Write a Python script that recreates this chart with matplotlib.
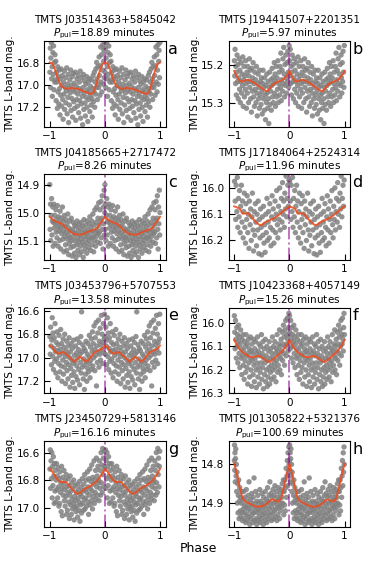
import numpy as np
import matplotlib
matplotlib.use("Agg")
import matplotlib.pyplot as plt

# star names, periods and panel letters
names = ["TMTS J03514363+5845042", "TMTS J19441507+2201351",
         "TMTS J04185665+2717472", "TMTS J17184064+2524314",
         "TMTS J03453796+5707553", "TMTS J10423368+4057149",
         "TMTS J23450729+5813146", "TMTS J01305822+5321376"]
periods = ["18.89", "5.97", "8.26", "11.96", "13.58", "15.26", "16.16", "100.69"]
letters = ["a", "b", "c", "d", "e", "f", "g", "h"]

# binned light curve, phase 0..1 in steps of 0.05
curve_phase = [0.00, 0.05, 0.10, 0.15, 0.20, 0.25, 0.30, 0.35, 0.40, 0.45, 0.50,
               0.55, 0.60, 0.65, 0.70, 0.75, 0.80, 0.85, 0.90, 0.95, 1.00]
curve_a = [16.79, 16.80, 16.86, 16.94, 17.00, 17.02, 17.03, 17.03, 17.02, 17.03, 17.03,
           17.04, 17.05, 17.06, 17.07, 17.08, 17.06, 16.98, 16.88, 16.81, 16.79]
curve_b = [15.217, 15.232, 15.243, 15.245, 15.241, 15.240, 15.243, 15.247, 15.252, 15.257, 15.262,
           15.268, 15.270, 15.262, 15.253, 15.248, 15.245, 15.242, 15.238, 15.230, 15.217]
curve_c = [15.015, 15.024, 15.031, 15.035, 15.038, 15.045, 15.055, 15.064, 15.072, 15.077, 15.078,
           15.079, 15.077, 15.073, 15.068, 15.064, 15.061, 15.057, 15.043, 15.030, 15.015]
curve_d = [16.070, 16.074, 16.079, 16.098, 16.097, 16.096, 16.108, 16.120, 16.131, 16.140, 16.141,
           16.132, 16.127, 16.122, 16.118, 16.112, 16.104, 16.095, 16.087, 16.078, 16.070]
curve_e = [16.896, 16.910, 16.950, 16.965, 16.960, 16.950, 16.970, 16.990, 17.015, 17.033, 17.010,
           16.990, 17.010, 17.033, 17.020, 16.990, 16.960, 16.945, 16.935, 16.925, 16.896]
curve_f = [16.073, 16.095, 16.112, 16.125, 16.133, 16.140, 16.145, 16.146, 16.142, 16.141, 16.146,
           16.155, 16.163, 16.166, 16.156, 16.146, 16.135, 16.125, 16.112, 16.095, 16.073]
curve_g = [16.718, 16.740, 16.775, 16.800, 16.815, 16.812, 16.815, 16.840, 16.860, 16.885, 16.900,
           16.895, 16.875, 16.860, 16.850, 16.840, 16.825, 16.810, 16.785, 16.755, 16.718]
curve_h = [14.798, 14.825, 14.860, 14.887, 14.896, 14.899, 14.903, 14.906, 14.909, 14.909, 14.908,
           14.905, 14.900, 14.893, 14.890, 14.894, 14.896, 14.888, 14.860, 14.827, 14.798]

# photometry points (phase in 0..1, mag)
pts_a = [(0.004, 16.88), (0.011, 16.66), (0.017, 17.02), (0.022, 16.75), (0.031, 16.61), (0.036, 16.94),
         (0.044, 16.83), (0.049, 17.10), (0.058, 16.70), (0.063, 16.90), (0.071, 16.64), (0.078, 17.04),
         (0.085, 16.79), (0.092, 16.97), (0.097, 16.72), (0.104, 16.95), (0.112, 16.78), (0.118, 17.14),
         (0.126, 16.88), (0.131, 16.97), (0.139, 17.21), (0.146, 16.83), (0.152, 17.06), (0.158, 16.92),
         (0.166, 17.17), (0.173, 16.86), (0.179, 17.03), (0.187, 17.27), (0.194, 16.94), (0.201, 17.09),
         (0.208, 16.85), (0.216, 17.19), (0.223, 17.00), (0.229, 16.91), (0.237, 17.13), (0.244, 17.31),
         (0.251, 16.97), (0.259, 17.08), (0.266, 16.87), (0.272, 17.22), (0.281, 17.02), (0.288, 16.93),
         (0.294, 17.16), (0.302, 17.05), (0.309, 16.84), (0.317, 17.26), (0.323, 16.99), (0.331, 17.11),
         (0.338, 16.90), (0.344, 17.34), (0.352, 17.03), (0.359, 17.18), (0.366, 16.95), (0.373, 17.07),
         (0.381, 16.86), (0.388, 17.23), (0.394, 17.00), (0.402, 17.12), (0.409, 16.92), (0.417, 17.29),
         (0.423, 17.04), (0.431, 16.89), (0.438, 17.15), (0.446, 16.98), (0.452, 17.21), (0.461, 17.06),
         (0.467, 16.88), (0.474, 17.32), (0.482, 17.01), (0.489, 17.13), (0.496, 16.94), (0.503, 17.19),
         (0.511, 17.08), (0.518, 16.91), (0.526, 17.25), (0.533, 17.03), (0.539, 16.97), (0.547, 17.14),
         (0.554, 16.87), (0.562, 17.30), (0.568, 17.05), (0.576, 17.17), (0.583, 16.93), (0.591, 17.10),
         (0.597, 17.36), (0.604, 17.02), (0.612, 16.90), (0.619, 17.22), (0.627, 17.07), (0.633, 16.96),
         (0.641, 17.16), (0.648, 17.28), (0.656, 16.99), (0.662, 17.11), (0.671, 16.92), (0.677, 17.20),
         (0.684, 17.04), (0.692, 17.33), (0.699, 16.97), (0.707, 17.13), (0.713, 17.06), (0.722, 16.94),
         (0.728, 17.24), (0.736, 17.09), (0.743, 17.01), (0.751, 17.18), (0.758, 16.95), (0.766, 17.12),
         (0.772, 17.29), (0.781, 17.03), (0.787, 16.91), (0.794, 17.15), (0.802, 17.06), (0.809, 16.88),
         (0.817, 17.20), (0.823, 16.97), (0.831, 17.08), (0.838, 16.85), (0.846, 17.02), (0.852, 16.79),
         (0.861, 16.94), (0.867, 17.13), (0.874, 16.83), (0.882, 16.99), (0.889, 17.02), (0.896, 16.74),
         (0.903, 16.91), (0.911, 17.09), (0.918, 16.82), (0.926, 16.65), (0.932, 16.97), (0.941, 16.72),
         (0.947, 17.06), (0.954, 16.86), (0.962, 16.63), (0.969, 16.99), (0.976, 16.78), (0.983, 16.68),
         (0.991, 16.93), (0.997, 16.61)]
pts_b = [(0.003, 15.19), (0.010, 15.23), (0.016, 15.16), (0.025, 15.25), (0.031, 15.205), (0.039, 15.28),
         (0.046, 15.22), (0.052, 15.175), (0.061, 15.245), (0.068, 15.20), (0.074, 15.29), (0.083, 15.235),
         (0.089, 15.185), (0.097, 15.265), (0.104, 15.215), (0.112, 15.30), (0.119, 15.245), (0.127, 15.195),
         (0.134, 15.275), (0.141, 15.225), (0.149, 15.255), (0.156, 15.18), (0.164, 15.31), (0.171, 15.24),
         (0.178, 15.205), (0.186, 15.285), (0.193, 15.23), (0.201, 15.265), (0.208, 15.19), (0.216, 15.25),
         (0.223, 15.315), (0.231, 15.22), (0.238, 15.275), (0.246, 15.205), (0.253, 15.245), (0.261, 15.30),
         (0.268, 15.23), (0.276, 15.185), (0.283, 15.26), (0.291, 15.215), (0.298, 15.29), (0.306, 15.245),
         (0.313, 15.325), (0.321, 15.21), (0.328, 15.27), (0.336, 15.235), (0.343, 15.195), (0.351, 15.285),
         (0.358, 15.25), (0.366, 15.31), (0.373, 15.22), (0.381, 15.265), (0.388, 15.24), (0.396, 15.30),
         (0.403, 15.205), (0.411, 15.275), (0.418, 15.335), (0.426, 15.25), (0.433, 15.225), (0.441, 15.29),
         (0.448, 15.26), (0.456, 15.315), (0.463, 15.215), (0.471, 15.28), (0.478, 15.245), (0.486, 15.305),
         (0.493, 15.235), (0.501, 15.27), (0.508, 15.33), (0.516, 15.25), (0.523, 15.215), (0.531, 15.29),
         (0.538, 15.26), (0.546, 15.32), (0.553, 15.235), (0.561, 15.28), (0.568, 15.345), (0.576, 15.255),
         (0.583, 15.30), (0.591, 15.225), (0.598, 15.275), (0.606, 15.315), (0.613, 15.245), (0.621, 15.29),
         (0.628, 15.355), (0.636, 15.26), (0.643, 15.22), (0.651, 15.305), (0.658, 15.27), (0.666, 15.24),
         (0.673, 15.32), (0.681, 15.255), (0.688, 15.21), (0.696, 15.285), (0.703, 15.235), (0.711, 15.30),
         (0.718, 15.25), (0.726, 15.195), (0.733, 15.275), (0.741, 15.225), (0.748, 15.31), (0.756, 15.245),
         (0.763, 15.205), (0.771, 15.285), (0.778, 15.235), (0.786, 15.265), (0.793, 15.19), (0.801, 15.30),
         (0.808, 15.25), (0.816, 15.22), (0.823, 15.28), (0.831, 15.205), (0.838, 15.26), (0.846, 15.17),
         (0.853, 15.295), (0.861, 15.24), (0.868, 15.215), (0.876, 15.27), (0.883, 15.185), (0.891, 15.25),
         (0.898, 15.155), (0.906, 15.225), (0.913, 15.285), (0.921, 15.20), (0.928, 15.255), (0.936, 15.175),
         (0.943, 15.235), (0.951, 15.275), (0.958, 15.195), (0.966, 15.245), (0.973, 15.165), (0.981, 15.22),
         (0.988, 15.26), (0.996, 15.15)]
pts_c = [(0.002, 14.90), (0.008, 15.06), (0.015, 14.97), (0.021, 15.10), (0.029, 15.01), (0.035, 14.95),
         (0.042, 15.08), (0.049, 15.03), (0.056, 14.98), (0.063, 15.12), (0.069, 15.035), (0.077, 14.97),
         (0.084, 15.055), (0.091, 15.01), (0.098, 15.11), (0.105, 15.04), (0.112, 14.99), (0.119, 15.07),
         (0.126, 15.025), (0.133, 15.09), (0.140, 14.975), (0.147, 15.05), (0.154, 15.12), (0.161, 15.015),
         (0.168, 15.065), (0.175, 15.035), (0.182, 15.10), (0.189, 14.995), (0.196, 15.055), (0.203, 15.13),
         (0.210, 15.02), (0.217, 15.075), (0.224, 15.045), (0.231, 14.98), (0.238, 15.095), (0.245, 15.03),
         (0.252, 15.065), (0.259, 15.14), (0.266, 15.01), (0.273, 15.085), (0.280, 15.05), (0.287, 15.115),
         (0.294, 15.025), (0.301, 15.07), (0.308, 15.135), (0.315, 15.04), (0.322, 15.095), (0.329, 15.005),
         (0.336, 15.08), (0.343, 15.15), (0.350, 15.055), (0.357, 15.11), (0.364, 15.03), (0.371, 15.09),
         (0.378, 15.065), (0.385, 15.125), (0.392, 15.02), (0.399, 15.10), (0.406, 15.155), (0.413, 15.06),
         (0.420, 15.085), (0.427, 15.035), (0.434, 15.12), (0.441, 15.07), (0.448, 15.145), (0.455, 15.045),
         (0.462, 15.10), (0.469, 15.075), (0.476, 15.16), (0.483, 15.05), (0.490, 15.115), (0.497, 15.03),
         (0.504, 15.09), (0.511, 15.135), (0.518, 15.065), (0.525, 15.105), (0.532, 15.04), (0.539, 15.15),
         (0.546, 15.08), (0.553, 15.055), (0.560, 15.12), (0.567, 15.095), (0.574, 15.035), (0.581, 15.14),
         (0.588, 15.07), (0.595, 15.105), (0.602, 15.05), (0.609, 15.16), (0.616, 15.085), (0.623, 15.025),
         (0.630, 15.115), (0.637, 15.065), (0.644, 15.13), (0.651, 15.045), (0.658, 15.095), (0.665, 15.075),
         (0.672, 15.145), (0.679, 15.03), (0.686, 15.11), (0.693, 15.06), (0.700, 15.085), (0.707, 15.125),
         (0.714, 15.04), (0.721, 15.10), (0.728, 15.015), (0.735, 15.07), (0.742, 15.135), (0.749, 15.05),
         (0.756, 15.09), (0.763, 15.03), (0.770, 15.115), (0.777, 15.065), (0.784, 15.005), (0.791, 15.085),
         (0.798, 15.14), (0.805, 15.045), (0.812, 15.10), (0.819, 14.99), (0.826, 15.07), (0.833, 15.12),
         (0.840, 15.035), (0.847, 15.085), (0.854, 14.98), (0.861, 15.06), (0.868, 15.105), (0.875, 15.02),
         (0.882, 15.075), (0.889, 14.965), (0.896, 15.045), (0.903, 15.07), (0.910, 14.99), (0.917, 15.11),
         (0.924, 15.03), (0.931, 14.96), (0.938, 15.09), (0.945, 15.02), (0.952, 14.94), (0.959, 15.06),
         (0.966, 15.13), (0.973, 14.98), (0.980, 15.04), (0.987, 14.92), (0.994, 15.08), (0.998, 15.00)]
pts_d = [(0.006, 15.975), (0.018, 16.05), (0.027, 16.12), (0.035, 15.99), (0.048, 16.09), (0.057, 15.96),
         (0.066, 16.15), (0.078, 16.04), (0.089, 16.11), (0.097, 16.01), (0.109, 16.17), (0.118, 16.07),
         (0.131, 15.99), (0.142, 16.13), (0.151, 16.05), (0.163, 16.19), (0.172, 16.09), (0.184, 16.02),
         (0.193, 16.15), (0.205, 16.21), (0.214, 16.06), (0.226, 16.12), (0.235, 16.03), (0.247, 16.17),
         (0.256, 16.10), (0.268, 16.23), (0.277, 16.05), (0.289, 16.14), (0.298, 16.08), (0.309, 16.20),
         (0.321, 16.11), (0.330, 16.02), (0.342, 16.16), (0.351, 16.24), (0.363, 16.09), (0.372, 16.18),
         (0.384, 16.06), (0.393, 16.13), (0.405, 16.22), (0.414, 16.10), (0.426, 16.16), (0.435, 16.05),
         (0.447, 16.25), (0.456, 16.12), (0.468, 16.19), (0.477, 16.08), (0.489, 16.15), (0.498, 16.255),
         (0.510, 16.11), (0.519, 16.18), (0.531, 16.07), (0.540, 16.21), (0.552, 16.14), (0.561, 16.245),
         (0.573, 16.10), (0.582, 16.17), (0.594, 16.04), (0.603, 16.20), (0.615, 16.13), (0.624, 16.09),
         (0.636, 16.19), (0.645, 16.06), (0.657, 16.15), (0.666, 16.22), (0.678, 16.11), (0.687, 16.03),
         (0.699, 16.16), (0.708, 16.08), (0.720, 16.21), (0.729, 16.12), (0.741, 16.05), (0.750, 16.17),
         (0.762, 16.10), (0.771, 16.01), (0.783, 16.14), (0.792, 16.19), (0.804, 16.07), (0.813, 16.12),
         (0.825, 16.00), (0.834, 16.16), (0.846, 16.09), (0.855, 16.04), (0.867, 16.13), (0.876, 15.98),
         (0.888, 16.10), (0.897, 16.05), (0.909, 16.15), (0.918, 16.02), (0.930, 16.08), (0.939, 15.955),
         (0.951, 16.11), (0.960, 16.04), (0.972, 15.99), (0.981, 16.07), (0.993, 15.97)]
pts_e = [(0.004, 16.82), (0.011, 16.97), (0.018, 16.74), (0.026, 16.90), (0.033, 17.06), (0.040, 16.85),
         (0.047, 16.66), (0.055, 16.99), (0.062, 16.79), (0.069, 17.10), (0.077, 16.92), (0.084, 16.83),
         (0.091, 17.03), (0.098, 16.71), (0.106, 16.95), (0.113, 17.13), (0.120, 16.87), (0.128, 17.01),
         (0.135, 16.78), (0.142, 16.94), (0.149, 17.17), (0.157, 16.89), (0.164, 17.05), (0.171, 16.81),
         (0.179, 16.98), (0.186, 17.12), (0.193, 16.93), (0.200, 16.76), (0.208, 17.07), (0.215, 16.88),
         (0.222, 17.20), (0.230, 16.96), (0.237, 17.02), (0.244, 16.84), (0.251, 17.14), (0.259, 16.91),
         (0.266, 17.08), (0.273, 16.80), (0.281, 16.99), (0.288, 17.22), (0.295, 16.94), (0.302, 17.04),
         (0.310, 16.86), (0.317, 17.11), (0.324, 16.97), (0.332, 17.18), (0.339, 16.90), (0.346, 17.06),
         (0.353, 16.83), (0.361, 17.00), (0.368, 17.25), (0.375, 16.95), (0.383, 17.09), (0.390, 16.88),
         (0.397, 17.15), (0.404, 17.02), (0.412, 16.92), (0.419, 17.21), (0.426, 17.05), (0.434, 16.85),
         (0.441, 17.12), (0.448, 16.98), (0.455, 17.26), (0.463, 17.03), (0.470, 16.90), (0.477, 17.16),
         (0.485, 16.96), (0.492, 17.07), (0.499, 16.84), (0.506, 17.19), (0.514, 17.00), (0.521, 16.93),
         (0.528, 17.10), (0.536, 16.87), (0.543, 17.23), (0.550, 16.97), (0.557, 17.04), (0.565, 16.82),
         (0.572, 17.13), (0.579, 16.61), (0.587, 16.95), (0.594, 17.08), (0.601, 16.89), (0.608, 17.18),
         (0.616, 17.01), (0.623, 16.92), (0.630, 17.27), (0.638, 17.06), (0.645, 16.94), (0.652, 17.14),
         (0.659, 16.86), (0.667, 17.03), (0.674, 17.20), (0.681, 16.97), (0.689, 17.09), (0.696, 16.88),
         (0.703, 17.12), (0.710, 16.99), (0.718, 16.81), (0.725, 17.05), (0.732, 17.17), (0.740, 16.91),
         (0.747, 17.02), (0.754, 16.84), (0.761, 17.10), (0.769, 16.95), (0.776, 16.78), (0.783, 17.07),
         (0.791, 16.88), (0.798, 17.00), (0.805, 16.73), (0.813, 16.93), (0.820, 17.11), (0.827, 16.83),
         (0.834, 16.98), (0.842, 16.70), (0.849, 17.24), (0.856, 16.90), (0.864, 17.04), (0.871, 16.79),
         (0.878, 16.95), (0.886, 16.68), (0.893, 17.08), (0.900, 16.86), (0.907, 16.97), (0.915, 16.75),
         (0.922, 17.02), (0.929, 16.89), (0.937, 16.64), (0.944, 16.93), (0.951, 16.80), (0.958, 17.05),
         (0.966, 16.87), (0.973, 16.71), (0.980, 16.96), (0.988, 16.84), (0.995, 16.63)]
pts_f = [(0.003, 15.97), (0.010, 16.04), (0.017, 16.11), (0.024, 15.99), (0.031, 16.07), (0.038, 16.15),
         (0.046, 16.02), (0.053, 16.10), (0.060, 16.05), (0.067, 16.17), (0.074, 16.08), (0.081, 16.01),
         (0.088, 16.13), (0.095, 16.06), (0.102, 16.19), (0.110, 16.09), (0.117, 16.03), (0.124, 16.15),
         (0.131, 16.11), (0.138, 16.22), (0.145, 16.07), (0.152, 16.14), (0.159, 16.05), (0.166, 16.18),
         (0.174, 16.12), (0.181, 16.24), (0.188, 16.08), (0.195, 16.16), (0.202, 16.10), (0.209, 16.21),
         (0.216, 16.05), (0.223, 16.14), (0.230, 16.19), (0.238, 16.09), (0.245, 16.26), (0.252, 16.13),
         (0.259, 16.07), (0.266, 16.17), (0.273, 16.11), (0.280, 16.23), (0.287, 16.15), (0.294, 16.06),
         (0.302, 16.20), (0.309, 16.12), (0.316, 16.27), (0.323, 16.09), (0.330, 16.16), (0.337, 16.13),
         (0.344, 16.22), (0.351, 16.07), (0.358, 16.18), (0.366, 16.25), (0.373, 16.11), (0.380, 16.15),
         (0.387, 16.08), (0.394, 16.20), (0.401, 16.275), (0.408, 16.13), (0.415, 16.17), (0.422, 16.06),
         (0.430, 16.23), (0.437, 16.12), (0.444, 16.19), (0.451, 16.09), (0.458, 16.26), (0.465, 16.14),
         (0.472, 16.21), (0.479, 16.10), (0.486, 16.17), (0.494, 16.05), (0.501, 16.24), (0.508, 16.13),
         (0.515, 16.19), (0.522, 16.08), (0.529, 16.28), (0.536, 16.15), (0.543, 16.11), (0.550, 16.22),
         (0.558, 16.17), (0.565, 16.07), (0.572, 16.25), (0.579, 16.14), (0.586, 16.20), (0.593, 16.10),
         (0.600, 16.27), (0.607, 16.16), (0.614, 16.23), (0.622, 16.12), (0.629, 16.19), (0.636, 16.08),
         (0.643, 16.26), (0.650, 16.15), (0.657, 16.21), (0.664, 16.11), (0.671, 16.18), (0.678, 16.24),
         (0.686, 16.13), (0.693, 16.06), (0.700, 16.20), (0.707, 16.15), (0.714, 16.10), (0.721, 16.23),
         (0.728, 16.17), (0.735, 16.08), (0.742, 16.19), (0.750, 16.13), (0.757, 16.25), (0.764, 16.11),
         (0.771, 16.16), (0.778, 16.05), (0.785, 16.21), (0.792, 16.12), (0.799, 16.18), (0.806, 16.09),
         (0.814, 16.14), (0.821, 16.03), (0.828, 16.20), (0.835, 16.10), (0.842, 16.15), (0.849, 16.07),
         (0.856, 16.22), (0.863, 16.12), (0.870, 16.04), (0.878, 16.16), (0.885, 16.09), (0.892, 16.01),
         (0.899, 16.13), (0.906, 16.06), (0.913, 16.18), (0.920, 16.03), (0.927, 16.10), (0.934, 15.99),
         (0.942, 16.14), (0.949, 16.05), (0.956, 16.09), (0.963, 15.98), (0.970, 16.07), (0.977, 16.12),
         (0.984, 16.02), (0.991, 15.96), (0.998, 16.05)]
pts_g = [(0.004, 16.72), (0.011, 16.58), (0.018, 16.86), (0.025, 16.66), (0.032, 16.79), (0.039, 16.60),
         (0.046, 16.93), (0.053, 16.70), (0.060, 16.84), (0.067, 16.63), (0.075, 16.77), (0.082, 16.97),
         (0.089, 16.68), (0.096, 16.88), (0.103, 16.73), (0.110, 16.96), (0.117, 16.80), (0.124, 16.68),
         (0.131, 16.87), (0.138, 16.77), (0.145, 16.93), (0.152, 16.71), (0.160, 16.85), (0.167, 16.99),
         (0.174, 16.79), (0.181, 16.97), (0.188, 16.74), (0.195, 16.89), (0.202, 16.82), (0.209, 17.03),
         (0.216, 16.70), (0.223, 16.86), (0.230, 17.06), (0.237, 16.78), (0.245, 16.91), (0.252, 16.83),
         (0.259, 16.73), (0.266, 16.95), (0.273, 16.87), (0.280, 16.99), (0.287, 16.80), (0.294, 16.92),
         (0.301, 16.76), (0.308, 17.05), (0.315, 16.85), (0.322, 17.02), (0.330, 16.89), (0.337, 16.79),
         (0.344, 16.96), (0.351, 16.84), (0.358, 17.08), (0.365, 16.91), (0.372, 16.77), (0.379, 16.98),
         (0.386, 16.88), (0.393, 17.05), (0.400, 16.82), (0.407, 16.94), (0.415, 17.01), (0.422, 16.86),
         (0.429, 16.97), (0.436, 16.80), (0.443, 17.09), (0.450, 16.92), (0.457, 17.00), (0.464, 16.84),
         (0.471, 16.95), (0.478, 17.03), (0.485, 16.89), (0.492, 16.99), (0.500, 16.83), (0.507, 17.07),
         (0.514, 16.93), (0.521, 16.87), (0.528, 17.02), (0.535, 16.96), (0.542, 16.81), (0.549, 17.10),
         (0.556, 16.90), (0.563, 16.98), (0.570, 16.85), (0.577, 17.04), (0.585, 16.92), (0.592, 16.79),
         (0.599, 16.97), (0.606, 16.88), (0.613, 17.02), (0.620, 16.83), (0.627, 16.94), (0.634, 16.76),
         (0.641, 17.01), (0.648, 16.87), (0.655, 16.93), (0.662, 16.80), (0.670, 16.99), (0.677, 16.89),
         (0.684, 16.74), (0.691, 16.96), (0.698, 16.85), (0.705, 17.05), (0.712, 16.79), (0.719, 16.91),
         (0.726, 16.72), (0.733, 16.98), (0.740, 16.86), (0.747, 16.81), (0.755, 16.95), (0.762, 16.69),
         (0.769, 16.88), (0.776, 17.01), (0.783, 16.78), (0.790, 16.92), (0.797, 16.83), (0.804, 16.66),
         (0.811, 16.97), (0.818, 16.80), (0.825, 16.89), (0.832, 16.73), (0.840, 16.94), (0.847, 16.64),
         (0.854, 16.85), (0.861, 16.77), (0.868, 16.91), (0.875, 16.70), (0.882, 16.82), (0.889, 16.80),
         (0.896, 16.95), (0.903, 16.66), (0.910, 16.86), (0.917, 16.73), (0.925, 16.91), (0.932, 16.60),
         (0.939, 16.82), (0.946, 16.69), (0.953, 16.89), (0.960, 16.57), (0.967, 16.76), (0.974, 16.64),
         (0.981, 16.85), (0.988, 16.70), (0.995, 16.59)]
pts_h = [(0.002, 14.79), (0.006, 14.75), (0.010, 14.815), (0.014, 14.77), (0.019, 14.845), (0.024, 14.785),
         (0.029, 14.76), (0.034, 14.83), (0.039, 14.80), (0.045, 14.87), (0.051, 14.82), (0.057, 14.90),
         (0.063, 14.85), (0.069, 14.925), (0.075, 14.88), (0.082, 14.84), (0.088, 14.94), (0.094, 14.895),
         (0.101, 14.86), (0.108, 14.92), (0.115, 14.885), (0.122, 14.935), (0.129, 14.90), (0.136, 14.87),
         (0.143, 14.925), (0.150, 14.945), (0.157, 14.89), (0.164, 14.915), (0.171, 14.87), (0.178, 14.94),
         (0.185, 14.905), (0.192, 14.925), (0.199, 14.885), (0.206, 14.95), (0.213, 14.91), (0.220, 14.865),
         (0.227, 14.93), (0.234, 14.895), (0.241, 14.945), (0.248, 14.915), (0.255, 14.88), (0.262, 14.935),
         (0.269, 14.845), (0.276, 14.905), (0.283, 14.955), (0.290, 14.92), (0.297, 14.89), (0.304, 14.94),
         (0.311, 14.90), (0.318, 14.875), (0.325, 14.93), (0.332, 14.91), (0.339, 14.95), (0.346, 14.885),
         (0.353, 14.925), (0.360, 14.835), (0.367, 14.945), (0.374, 14.90), (0.381, 14.92), (0.388, 14.87),
         (0.395, 14.94), (0.402, 14.91), (0.409, 14.955), (0.416, 14.895), (0.423, 14.925), (0.430, 14.88),
         (0.437, 14.945), (0.444, 14.915), (0.451, 14.90), (0.458, 14.935), (0.465, 14.865), (0.472, 14.95),
         (0.479, 14.92), (0.486, 14.895), (0.493, 14.94), (0.500, 14.905), (0.507, 14.875), (0.514, 14.93),
         (0.521, 14.91), (0.528, 14.955), (0.535, 14.885), (0.542, 14.925), (0.549, 14.90), (0.556, 14.945),
         (0.563, 14.87), (0.570, 14.915), (0.577, 14.935), (0.584, 14.89), (0.591, 14.95), (0.598, 14.905),
         (0.605, 14.86), (0.612, 14.925), (0.619, 14.895), (0.626, 14.94), (0.633, 14.88), (0.640, 14.915),
         (0.647, 14.845), (0.654, 14.93), (0.661, 14.90), (0.668, 14.875), (0.675, 14.945), (0.682, 14.91),
         (0.689, 14.885), (0.696, 14.925), (0.703, 14.865), (0.710, 14.94), (0.717, 14.90), (0.724, 14.88),
         (0.731, 14.92), (0.738, 14.855), (0.745, 14.935), (0.752, 14.895), (0.759, 14.915), (0.766, 14.87),
         (0.773, 14.945), (0.780, 14.905), (0.787, 14.885), (0.794, 14.93), (0.801, 14.86), (0.808, 14.91),
         (0.815, 14.89), (0.822, 14.94), (0.829, 14.875), (0.836, 14.92), (0.843, 14.90), (0.850, 14.865),
         (0.857, 14.91), (0.864, 14.885), (0.871, 14.85), (0.878, 14.90), (0.885, 14.87), (0.892, 14.84),
         (0.899, 14.93), (0.906, 14.87), (0.913, 14.905), (0.920, 14.84), (0.927, 14.92), (0.934, 14.86),
         (0.941, 14.81), (0.948, 14.885), (0.955, 14.83), (0.962, 14.79), (0.969, 14.855), (0.976, 14.77),
         (0.983, 14.82), (0.990, 14.755), (0.995, 14.80)]

curves = [curve_a, curve_b, curve_c, curve_d, curve_e, curve_f, curve_g, curve_h]
points = [pts_a, pts_b, pts_c, pts_d, pts_e, pts_f, pts_g, pts_h]

# axis ranges (bright at top) and ticks
ylims = [(17.38, 16.594), (15.364, 15.138), (15.17, 14.863), (16.275, 15.948),
         (17.304, 16.573), (16.30, 15.935), (17.14, 16.514), (14.961, 14.739)]
yticks = [[16.8, 17.0, 17.2], [15.2, 15.3], [14.9, 15.0, 15.1], [16.0, 16.1, 16.2],
          [16.6, 16.8, 17.0, 17.2], [16.0, 16.1, 16.2, 16.3], [16.6, 16.8, 17.0], [14.8, 14.9]]

fig, axes = plt.subplots(4, 2, figsize=(3.74, 5.61), dpi=100)
fig.subplots_adjust(left=0.118, right=0.936, top=0.927, bottom=0.061,
                    wspace=0.52, hspace=0.55)

cp = np.array(curve_phase)
for i, ax in enumerate(axes.flat):
    pts = np.array(points[i])
    ph = np.concatenate([pts[:, 0] - 1, pts[:, 0]])
    mg = np.concatenate([pts[:, 1], pts[:, 1]])
    ax.scatter(ph, mg, s=15, color='gray', alpha=0.85, edgecolors='none', zorder=1)

    cv = np.array(curves[i])
    ax.plot(np.concatenate([cp - 1, cp[1:]]), np.concatenate([cv, cv[1:]]),
            color='#f04a1a', lw=1.4, alpha=0.85, zorder=3)
    ax.axvline(0, color='darkmagenta', ls='-.', lw=1.4, alpha=0.55, zorder=2)

    ax.set_xlim(-1.1, 1.1)
    ax.set_ylim(*ylims[i])
    ax.set_xticks([-1, 0, 1])
    ax.set_yticks(yticks[i])
    ax.tick_params(direction='in', labelsize=7.5, length=4, width=0.8, pad=3)
    ax.set_ylabel('TMTS L-band mag.', fontsize=7.5, labelpad=1)
    ax.set_title(names[i] + '\n' + r'$P_{\rm pul}$=' + periods[i] + ' minutes',
                 fontsize=7.5, pad=3, linespacing=1.2)
    ax.text(1.02, 0.85, letters[i], transform=ax.transAxes, fontsize=11.5,
            ha='left', va='baseline')

fig.text(0.53, 0.022, 'Phase', fontsize=9, ha='center', va='center')

plt.savefig('out.png', dpi=100)
